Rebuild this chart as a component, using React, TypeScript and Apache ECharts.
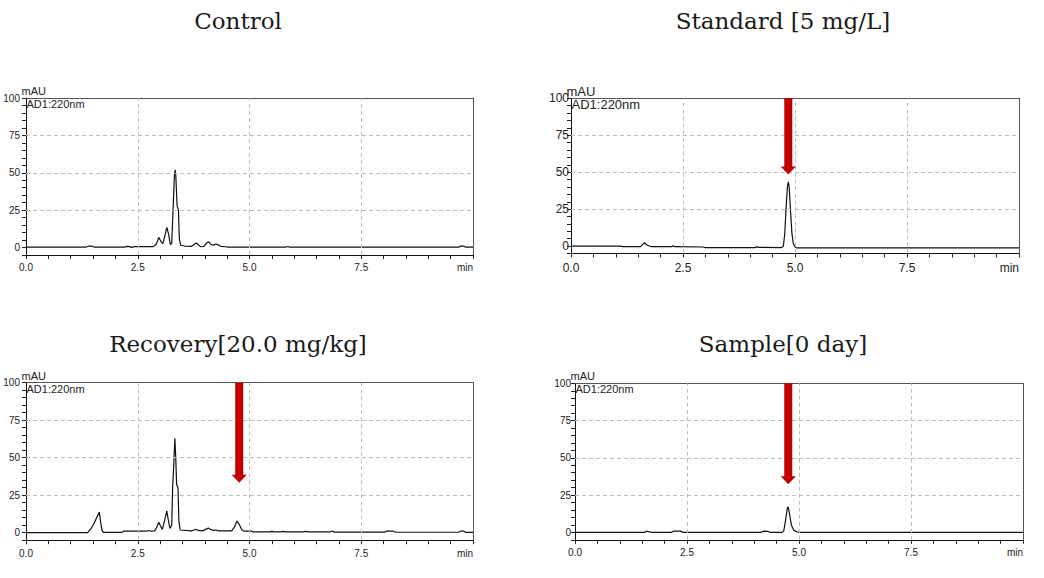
import { useEffect, useRef } from 'react';
import * as echarts from 'echarts';

// ---------- data ----------
const panelTitles = ['Control', 'Standard [5 mg/L]', 'Recovery[20.0 mg/kg]', 'Sample[0 day]'];
const yUnit = 'mAU';
const detector = 'AD1:220nm';
const xLabelValues = [0, 2.5, 5, 7.5];
const xEndLabel = 'min';
const yLabelValues = [0, 25, 50, 75, 100];
const gridXValues = [2.5, 5, 7.5];
const gridYValues = [25, 50, 75];

const controlTrace: number[][] = [
  [0, 0.3], [1.35, 0.3], [1.4, 1.0], [1.48, 0.9], [1.52, 0.3], [2.2, 0.3], [2.25, 0.8], [2.32, 0.6],
  [2.36, 0.1], [2.42, 0.6], [2.85, 0.6], [2.92, 2.5], [2.97, 6.8], [3.02, 4], [3.06, 2.6], [3.1, 7],
  [3.15, 13.5], [3.19, 9], [3.23, 2], [3.26, 3], [3.29, 25], [3.32, 48], [3.335, 52], [3.35, 49],
  [3.38, 28], [3.41, 25], [3.43, 6], [3.46, 1.5], [3.55, 1], [3.7, 0.8], [3.76, 2], [3.81, 3],
  [3.86, 1.8], [3.9, 0.6], [3.98, 0.8], [4.05, 3.2], [4.09, 3.8], [4.14, 2], [4.19, 1.6], [4.25, 2.4],
  [4.3, 1.8], [4.35, 0.8], [4.47, 0.5], [4.5, 0.2], [5.8, 0.2], [5.86, 0.7], [5.9, 0.2], [9.68, 0.2],
  [9.72, 1.0], [9.8, 0.9], [9.84, 0.2], [10, 0.2],
];

const standardTrace: number[][] = [
  [0, 0], [1.1, 0], [1.15, -0.4], [1.55, -0.4], [1.6, 1.2], [1.64, 2.3], [1.7, 0.6], [1.78, -0.3],
  [2.25, -0.4], [2.28, 0.3], [2.32, -0.4], [2.95, -0.6], [3.0, -1], [4.1, -1], [4.15, -0.5], [4.2, -0.9],
  [4.7, -1], [4.74, 0], [4.77, 8], [4.8, 25], [4.83, 40], [4.85, 43.5], [4.87, 40], [4.9, 24],
  [4.93, 9], [4.96, 2], [5.0, -0.5], [5.03, -1.2], [10, -1.2],
];

const recoveryTrace: number[][] = [
  [0, 0], [1.38, 0], [1.45, 2.5], [1.52, 6], [1.58, 10], [1.64, 13.8], [1.67, 7], [1.7, 1.5],
  [1.73, 0.2], [2.15, 0.2], [2.18, 1], [2.7, 1], [2.75, 1.5], [2.8, 1], [2.88, 1.2], [2.93, 4],
  [2.97, 7], [3.01, 4.5], [3.05, 2.2], [3.1, 8], [3.15, 14.5], [3.18, 9], [3.22, 2.8], [3.26, 5],
  [3.28, 30], [3.31, 48], [3.33, 63], [3.35, 50], [3.37, 32], [3.4, 30], [3.42, 8], [3.45, 1.8],
  [3.7, 1.2], [3.76, 1.8], [3.8, 2.3], [3.85, 1.5], [3.95, 1.2], [4.03, 2.4], [4.08, 3.1], [4.14, 2],
  [4.2, 1.6], [4.25, 1.8], [4.3, 1.2], [4.6, 1.2], [4.66, 3.5], [4.72, 7.8], [4.77, 5.5], [4.83, 2],
  [4.88, 1], [5.05, 1], [5.08, 0.5], [5.45, 0.5], [5.5, 0.9], [5.55, 0.5], [5.7, 0.6], [5.75, 0.9],
  [5.8, 0.5], [6.2, 0.5], [6.25, 0.9], [6.32, 0.5], [6.8, 0.5], [6.85, 1.1], [6.9, 0.4], [8.02, 0.4],
  [8.07, 1], [8.22, 1], [8.27, 0.3], [9.68, 0.3], [9.72, 1], [9.8, 1], [9.84, 0.2], [10, 0.2],
];

const sampleTrace: number[][] = [
  [0, 0], [1.55, 0], [1.6, 0.8], [1.66, 0.3], [1.72, 0], [2.15, 0], [2.2, 0.8], [2.35, 0.8],
  [2.42, 0], [4.15, 0], [4.2, 0.8], [4.3, 0.7], [4.36, 0], [4.62, 0], [4.66, 1], [4.7, 8],
  [4.74, 16.5], [4.76, 17], [4.79, 12], [4.83, 5], [4.88, 1.5], [4.95, 0.4], [5.02, 0], [10, 0],
];

// arrows: [time, top value, tip value]
const standardArrow = [4.85, 100, 48.4];
const recoveryArrow = [4.77, 100, 33.3];
const sampleArrow = [4.76, 100, 32.3];

const traces = [controlTrace, standardTrace, recoveryTrace, sampleTrace];
const arrowsByPanel: (number[] | null)[] = [null, standardArrow, recoveryArrow, sampleArrow];

// ---------- layout ----------
const layouts = [
  { left: 26, top: 98, width: 447, height: 157, fs: 10, nfs: 11, ym: 6, xm: 7, tx: 238, ty: 21 },
  { left: 571, top: 98.3, width: 448, height: 155.2, fs: 12, nfs: 13, ym: 2, xm: 8, tx: 783, ty: 21 },
  { left: 26, top: 382.7, width: 447, height: 157.5, fs: 10, nfs: 11, ym: 6, xm: 8, tx: 238, ty: 344 },
  { left: 575, top: 383.3, width: 448, height: 156.5, fs: 10, nfs: 11, ym: 4, xm: 8, tx: 783, ty: 344 },
];

export default function App() {
  const ref = useRef<HTMLDivElement>(null);

  useEffect(() => {
    const chart = echarts.init(ref.current!, null, { renderer: 'svg' });

    const grid: any[] = [];
    const xAxis: any[] = [];
    const yAxis: any[] = [];
    const series: any[] = [];
    const graphic: any[] = [];

    layouts.forEach((L, i) => {
      grid.push({ left: L.left, top: L.top, width: L.width, height: L.height, containLabel: false });
      const labelFont = { fontFamily: 'Liberation Sans', fontSize: L.fs, color: '#222' };
      // bottom x axis
      xAxis.push({
        gridIndex: i, type: 'value', min: 0, max: 10, interval: 0.5, position: 'bottom',
        axisLine: { show: true, onZero: false, lineStyle: { color: '#111', width: 1 } },
        axisTick: { show: true, length: 4, lineStyle: { color: '#222' } },
        axisLabel: {
          ...labelFont, margin: L.xm, alignMaxLabel: 'right',
          formatter: (v: number) => {
            if (Math.abs(v - 10) < 1e-6) return xEndLabel;
            return xLabelValues.some((x) => Math.abs(x - v) < 1e-6) ? v.toFixed(1) : '';
          },
        },
        splitLine: { show: false },
      });
      // top frame
      xAxis.push({
        gridIndex: i, type: 'value', min: 0, max: 10, position: 'top',
        axisLine: { show: true, onZero: false, lineStyle: { color: '#555', width: 1 } },
        axisTick: { show: false }, axisLabel: { show: false }, splitLine: { show: false },
      });
      // left y axis
      yAxis.push({
        gridIndex: i, type: 'value', min: -5, max: 100, interval: 5, position: 'left',
        axisLine: { show: true, onZero: false, lineStyle: { color: '#111', width: 1 } },
        axisTick: { show: true, length: 4, lineStyle: { color: '#222' } },
        axisLabel: {
          ...labelFont, margin: L.ym,
          formatter: (v: number) => (yLabelValues.some((y) => Math.abs(y - v) < 1e-6) ? String(v) : ''),
        },
        splitLine: { show: false },
      });
      // right frame
      yAxis.push({
        gridIndex: i, type: 'value', min: -5, max: 100, position: 'right',
        axisLine: { show: true, onZero: false, lineStyle: { color: '#555', width: 1 } },
        axisTick: { show: false }, axisLabel: { show: false }, splitLine: { show: false },
      });

      // dashed grid lines
      series.push({
        type: 'line', xAxisIndex: i * 2, yAxisIndex: i * 2, data: [], silent: true,
        markLine: {
          silent: true, symbol: 'none', animation: false,
          label: { show: false },
          lineStyle: { type: [4, 3], color: '#bdbdbd', width: 1 },
          data: [
            ...gridYValues.map((y) => ({ yAxis: y })),
            ...gridXValues.map((x) => ({ xAxis: x })),
          ],
        },
      });

      // trace
      series.push({
        type: 'line', xAxisIndex: i * 2, yAxisIndex: i * 2, data: traces[i],
        showSymbol: false, symbol: 'none', silent: true,
        lineStyle: { color: '#111', width: 1.2 },
      });

      // arrow
      const arrow = arrowsByPanel[i];
      if (arrow) {
        series.push({
          type: 'custom', xAxisIndex: i * 2, yAxisIndex: i * 2, data: [arrow], silent: true,
          encode: { x: 0, y: [1, 2] }, clip: false, z: 5,
          renderItem: (_p: any, api: any) => {
            const topPt = api.coord([api.value(0), api.value(1)]);
            const tipPt = api.coord([api.value(0), api.value(2)]);
            const cx = topPt[0];
            const sw = 4, hw = 7.5, hl = 8;
            const t = topPt[1], b = tipPt[1];
            return {
              type: 'polygon',
              shape: {
                points: [
                  [cx - sw, t], [cx + sw, t], [cx + sw, b - hl], [cx + hw, b - hl],
                  [cx, b], [cx - hw, b - hl], [cx - sw, b - hl],
                ],
              },
              style: {
                fill: new echarts.graphic.LinearGradient(0, 0, 1, 0, [
                  { offset: 0, color: '#b00000' },
                  { offset: 0.5, color: '#cc0000' },
                  { offset: 1, color: '#9a0000' },
                ]),
              },
            };
          },
        });
      }

      // labels
      graphic.push({
        type: 'text', x: L.left - 4.5, y: L.top - 7, silent: true,
        style: { text: yUnit, fontFamily: 'Liberation Sans', fontSize: L.nfs, fill: '#222', align: 'left', verticalAlign: 'middle' },
      });
      graphic.push({
        type: 'text', x: L.left + 0.5, y: L.top + 6, silent: true,
        style: { text: detector, fontFamily: 'Liberation Sans', fontSize: L.nfs, fill: '#222', align: 'left', verticalAlign: 'middle' },
      });
      graphic.push({
        type: 'text', x: L.tx, y: L.ty, silent: true,
        style: { text: panelTitles[i], fontFamily: 'DejaVu Serif', fontSize: 23, fill: '#1a1a1a', align: 'center', verticalAlign: 'middle' },
      });
    });

    chart.setOption({
      animation: false,
      backgroundColor: '#ffffff',
      grid, xAxis, yAxis, series, graphic,
    });

    return () => chart.dispose();
  }, []);

  return (
    <div
      ref={ref}
      style={{ position: 'absolute', left: 0, top: 0, width: 1044, height: 578, background: '#fff' }}
    />
  );
}
